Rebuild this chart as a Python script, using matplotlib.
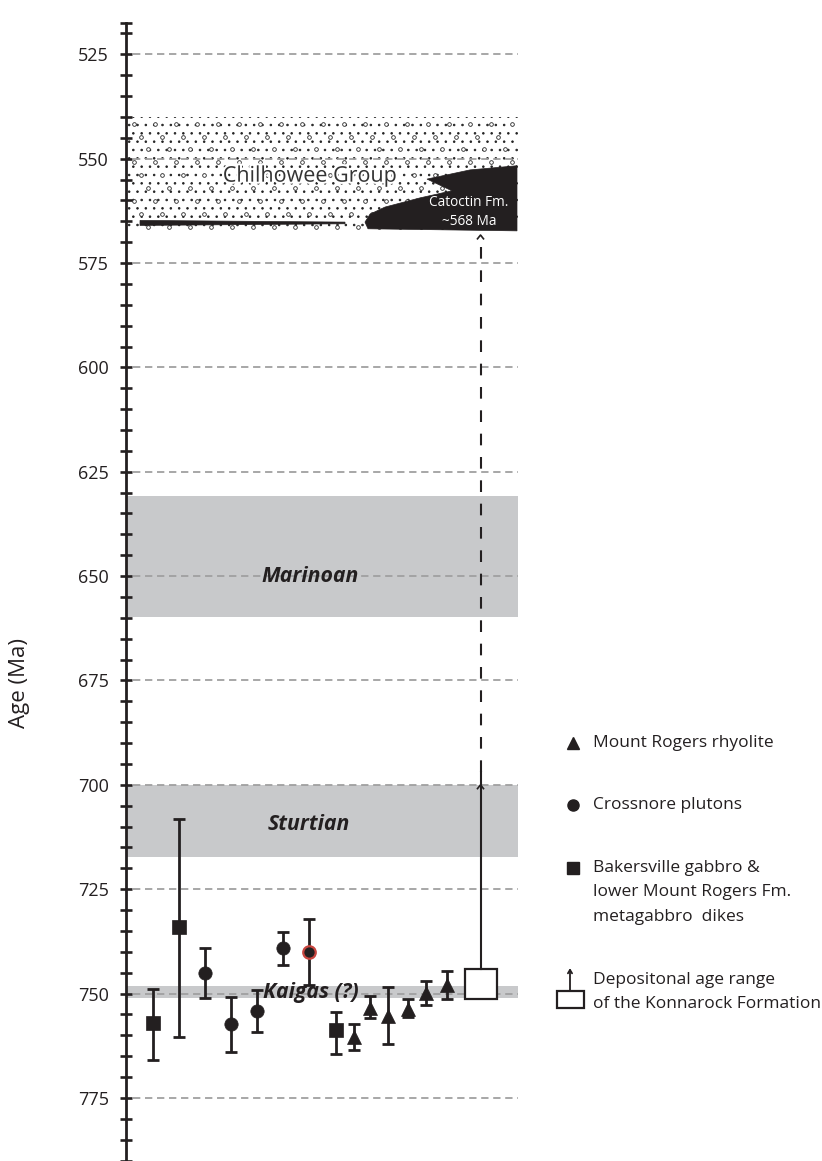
import matplotlib
matplotlib.use("Agg")
import numpy as np
import matplotlib.pyplot as plt
from matplotlib.patches import Rectangle, Polygon
import matplotlib.patheffects as pe

plt.rcParams['font.family'] = ['Open Sans', 'DejaVu Sans']
plt.rcParams['hatch.linewidth'] = 0.6

# ---------------- data ----------------
sample_kind = ['square', 'square', 'circle', 'circle', 'circle', 'circle', 'circle_red',
               'square', 'triangle', 'triangle', 'triangle', 'triangle', 'triangle', 'triangle']
sample_age = [757.1, 734.1, 745.1, 757.3, 754.2, 739.1, 740.1,
              758.7, 760.3, 753.5, 755.4, 753.7, 749.8, 748.0]
err_young = [8.2, 25.9, 6.1, 6.6, 5.0, 3.9, 8.0, 4.4, 3.0, 2.9, 6.9, 2.4, 2.8, 3.5]
err_old = [8.9, 26.2, 6.0, 6.7, 4.9, 4.0, 7.9, 5.8, 3.2, 2.4, 6.6, 1.8, 2.9, 3.3]

konnarock_box = (744.2, 751.3)        # age span of box
konnarock_solid_top = 697.0
konnarock_caret_solid = 700.0
konnarock_dashed_top = 568.3

glaciations = ['Marinoan', 'Sturtian', 'Kaigas (?)']
glac_top = [630.8, 700.0, 748.3]
glac_bottom = [659.7, 717.4, 751.0]
glac_label_age = [650.0, 709.4, 749.8]

chilhowee_top, chilhowee_bottom = 540.0, 567.2
catoctin_x = [517, 470, 427, 452, 420, 385, 370, 365, 368, 517]
catoctin_age = [551.7, 552.7, 554.9, 557.7, 559.4, 561.6, 563.3, 565.2, 566.8, 567.3]
lens_x = [140, 345, 345, 140]
lens_age = [564.8, 565.2, 565.6, 566.0]

grid_ages = [525, 550, 575, 600, 625, 650, 675, 700, 725, 750, 775]
legend_labels = [['Mount Rogers rhyolite'], ['Crossnore plutons'],
                 ['Bakersville gabbro &', 'lower Mount Rogers Fm.', 'metagabbro  dikes']]
konnarock_legend = ['Depositonal age range', 'of the Konnarock Formation']

# ---------------- layout ----------------
sample_x = [152.7, 179, 205, 231, 257, 283.3, 309.3, 335.7, 354, 370, 387.7, 408.3, 426, 446.7]
konnarock_x = 480.5
axis_x = 126
x_right = 518

INK = '#231f20'
GRAY = '#c8c9cb'

fig = plt.figure(figsize=(8.22, 11.61), dpi=100)
ax = fig.add_axes([0, 0, 1, 1])
ax.set_xlim(0, 822)
ax.set_ylim(790.1, 512.0)

for s in ['top', 'right', 'bottom']:
    ax.spines[s].set_visible(False)
ax.spines['left'].set_position(('data', axis_x))
ax.spines['left'].set_bounds(517.5, 790.1)
ax.spines['left'].set_linewidth(2.0)
ax.spines['left'].set_color(INK)
ax.set_xticks([])
ax.set_yticks(grid_ages)
ax.set_yticks([v for v in [517.5] + list(range(520, 791, 5)) if v not in grid_ages], minor=True)
ax.tick_params(axis='y', which='both', direction='inout', length=8.6, width=1.9, color=INK)
ax.tick_params(axis='y', which='major', labelsize=13, labelcolor=INK, pad=8)
ax.patch.set_alpha(0)

# glaciation bands
for top, bot in zip(glac_top, glac_bottom):
    ax.add_patch(Rectangle((axis_x, top), x_right - axis_x, bot - top,
                           facecolor=GRAY, edgecolor='none', zorder=1))

# Chilhowee group stipple (fine dots + sparse small pebbles)
ax.add_patch(Rectangle((axis_x + 2, chilhowee_top), x_right - axis_x - 2,
                       chilhowee_bottom - chilhowee_top, facecolor='white',
                       edgecolor='#222222', linewidth=0, hatch='..', zorder=1))
px_step, py_step = 21.0, 3.1
rows = np.arange(chilhowee_top + 1.6, chilhowee_bottom - 0.5, py_step)
pebx, peby = [], []
for i, r in enumerate(rows):
    start = axis_x + 8 + (i % 3) * 7.0
    xs = np.arange(start, x_right - 2, px_step)
    pebx.extend(xs)
    peby.extend([r] * len(xs))
ax.scatter(pebx, peby, s=7, facecolors='white', edgecolors='#2a2a2a',
           linewidths=0.6, zorder=1.5)

# grid lines
for g in grid_ages:
    ax.plot([axis_x + 7, x_right], [g, g], color='#a0a0a0', lw=1.3,
            dashes=(4.05, 2.6), zorder=2)

# Catoctin shape and lens
ax.add_patch(Polygon(list(zip(catoctin_x, catoctin_age)), closed=True,
                     facecolor=INK, edgecolor=INK, lw=0.5, zorder=3))
ax.add_patch(Polygon(list(zip(lens_x, lens_age)), closed=True,
                     facecolor=INK, edgecolor=INK, lw=0.5, zorder=3))
ax.text(310, 554.2, 'Chilhowee Group', fontsize=15.5, color='#333333',
        ha='center', va='center', zorder=4,
        path_effects=[pe.withStroke(linewidth=3, foreground='white')])
ax.text(469, 560.4, 'Catoctin Fm.', fontsize=9.8, color='white',
        ha='center', va='center', zorder=4)
ax.text(469, 565.1, '~568 Ma', fontsize=9.8, color='white',
        ha='center', va='center', zorder=4)

# glaciation labels
label_x = [310, 308.5, 310.5]
for name, la, lx in zip(glaciations, glac_label_age, label_x):
    ax.text(lx, la, name, fontsize=15.3, fontweight='bold', fontstyle='italic',
            color=INK, ha='center', va='center', zorder=5)

# samples
marker_of = {'square': 's', 'circle': 'o', 'circle_red': 'o', 'triangle': '^'}
for x, kind, a, ey, eo in zip(sample_x, sample_kind, sample_age, err_young, err_old):
    ax.errorbar([x], [a], yerr=[[ey], [eo]], fmt='none', ecolor=INK,
                elinewidth=2.0, capsize=4.3, capthick=2.0, zorder=6)
    if kind == 'circle_red':
        ax.plot([x], [a], marker='o', ms=9.0, mfc=INK, mec='#c8453f', mew=1.6, ls='none', zorder=7)
    else:
        ms = 9.6 if kind != 'triangle' else 10.0
        ax.plot([x], [a], marker=marker_of[kind], ms=ms, mfc=INK, mec=INK, mew=0.5,
                ls='none', zorder=7)

# Konnarock formation range
b0, b1 = konnarock_box
ax.add_patch(Rectangle((konnarock_x - 16, b0), 32, b1 - b0, facecolor='white',
                       edgecolor=INK, lw=1.6, zorder=6))
ax.plot([konnarock_x, konnarock_x], [b0, konnarock_solid_top], color=INK, lw=1.5, zorder=6)
ax.plot([konnarock_x, konnarock_x], [konnarock_solid_top, konnarock_dashed_top],
        color=INK, lw=1.5, dashes=(5.6, 5.6), zorder=6)
for c in [konnarock_caret_solid, konnarock_dashed_top]:
    ax.plot([konnarock_x - 3, konnarock_x, konnarock_x + 3], [c + 0.9, c, c + 0.9],
            color=INK, lw=1.2, zorder=6)

# y label
ax.text(20, 675.5, 'Age (Ma)', rotation=90, fontsize=16, color=INK,
        ha='center', va='center')

# legend
leg_marker_x = 572.7
leg_text_x = 593
leg_rows = [690.0, 704.8, 719.8]
line_step = 5.9
for m, la, lines in zip(['^', 'o', 's'], leg_rows, legend_labels):
    ax.plot([leg_marker_x], [la], marker=m, ms=8, color=INK, ls='none')
    for k, ln in enumerate(lines):
        ax.text(leg_text_x, la + k * line_step, ln, fontsize=12.5, color=INK,
                ha='left', va='center')
ax.add_patch(Rectangle((557, 749.4), 26.5, 4.1, facecolor='white', edgecolor=INK, lw=1.6))
ax.annotate('', xy=(570, 743.9), xytext=(570, 749.4),
            arrowprops=dict(arrowstyle='->,head_length=0.25,head_width=0.15',
                            lw=1.3, color=INK, shrinkA=0, shrinkB=0))
for k, ln in enumerate(konnarock_legend):
    ax.text(leg_text_x, 746.7 + k * line_step, ln, fontsize=12.5, color=INK,
            ha='left', va='center')

fig.savefig('out.png', dpi=100)
